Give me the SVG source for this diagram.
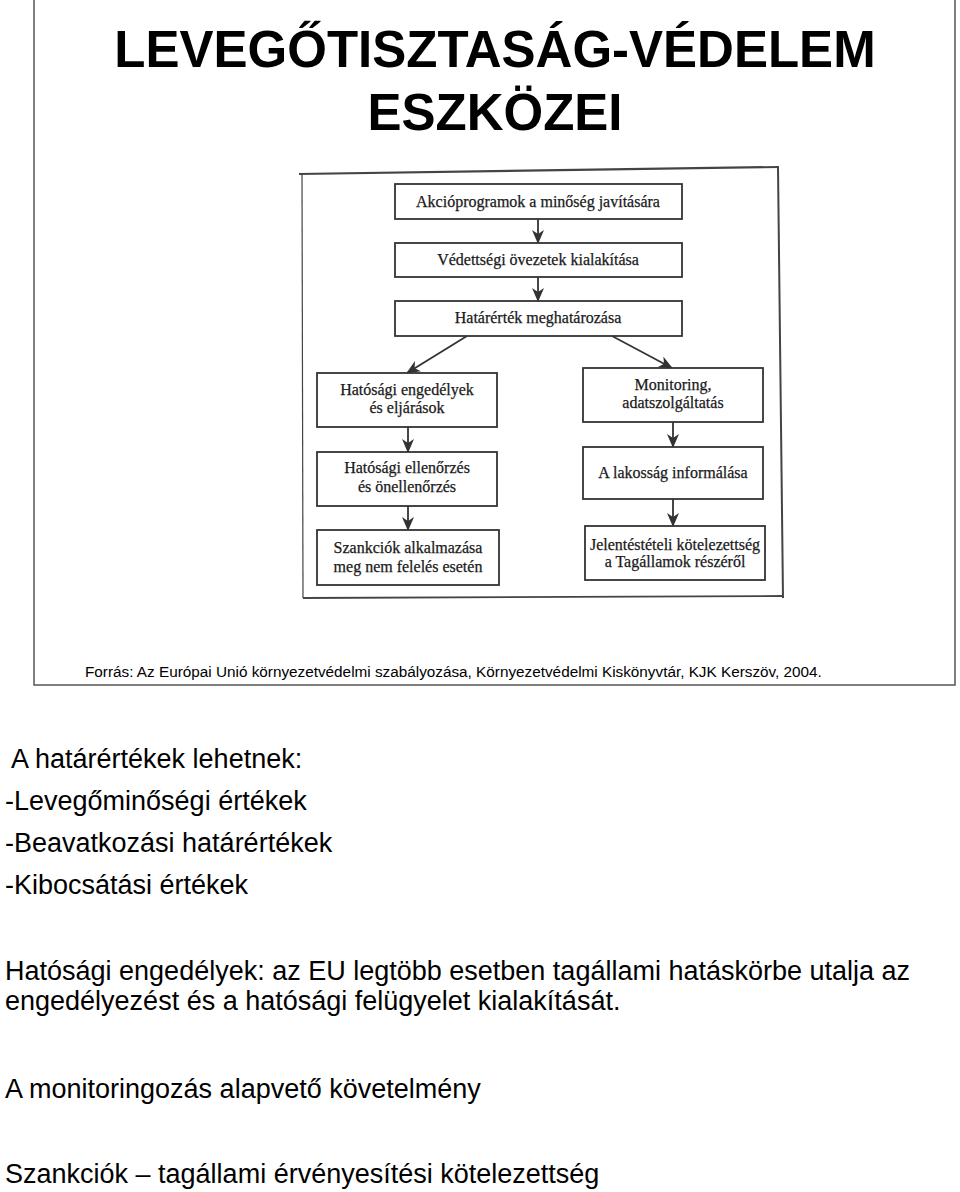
<svg xmlns="http://www.w3.org/2000/svg" width="960" height="1192" viewBox="0 0 960 1192">
<style>
.title{font-family:"Liberation Sans",Arial,sans-serif;font-weight:bold;font-size:51px;fill:#000;text-anchor:middle}
.body{font-family:"Liberation Sans",Arial,sans-serif;font-size:27px;fill:#000}
.cap{font-family:"Liberation Sans",Arial,sans-serif;font-size:15.3px;fill:#000}
.box{fill:#fff;stroke:#333;stroke-width:1.8}
.bt{font-family:"Liberation Serif","Times New Roman",serif;font-size:16px;fill:#1a1a1a;stroke:#1a1a1a;stroke-width:0.25;text-anchor:middle}
.con{stroke:#333;stroke-width:1.8;fill:none;marker-end:url(#ah)}
.frame{stroke:#444;fill:none}
</style>
<defs>
<marker id="ah" viewBox="0 0 14 12" refX="13" refY="6" markerWidth="14" markerHeight="12" markerUnits="userSpaceOnUse" orient="auto">
<path d="M0,0 L14,6 L0,12 L4,6 Z" fill="#333"/>
</marker>
</defs>
<rect width="960" height="1192" fill="#fff"/>
<g id="slide-frame">
<path d="M34,-2 L34,685 L955,685 L955,-2" fill="none" stroke="#555" stroke-width="1.5"/>
</g>
<g id="title">
<text class="title" x="495" y="67">LEVEGŐTISZTASÁG-VÉDELEM</text>
<text class="title" x="495" y="130">ESZKÖZEI</text>
</g>
<g id="scan-frame">
<line class="frame" x1="299" y1="174" x2="779" y2="167" stroke-width="2.2"/>
<line class="frame" x1="778" y1="167" x2="783" y2="598" stroke-width="2"/>
<line class="frame" x1="302" y1="174" x2="303" y2="598" stroke-width="1.2" stroke="#777"/>
<line class="frame" x1="303" y1="598" x2="783" y2="596" stroke-width="1.8"/>
</g>
<g id="connectors">
<line class="con" x1="538" y1="219" x2="538" y2="243"/>
<line class="con" x1="538" y1="277" x2="538" y2="301"/>
<line class="con" x1="467" y1="336" x2="407" y2="373"/>
<line class="con" x1="612" y1="336" x2="672" y2="368"/>
<line class="con" x1="408" y1="427" x2="408" y2="452"/>
<line class="con" x1="408" y1="506" x2="408" y2="530"/>
<line class="con" x1="673" y1="422" x2="673" y2="447"/>
<line class="con" x1="673" y1="499" x2="673" y2="526"/>
</g>
<g id="n1">
<rect class="box" x="395" y="184" width="287" height="35"/>
<text class="bt" x="538" y="207">Akcióprogramok a minőség javítására</text>
</g>
<g id="n2">
<rect class="box" x="395" y="243" width="287" height="34"/>
<text class="bt" x="538" y="265">Védettségi övezetek kialakítása</text>
</g>
<g id="n3">
<rect class="box" x="395" y="301" width="287" height="35"/>
<text class="bt" x="538" y="323">Határérték meghatározása</text>
</g>
<g id="n4">
<rect class="box" x="317" y="373" width="180" height="54"/>
<text class="bt" x="407" y="395">Hatósági engedélyek</text>
<text class="bt" x="407" y="413">és eljárások</text>
</g>
<g id="n5">
<rect class="box" x="317" y="452" width="180" height="54"/>
<text class="bt" x="407" y="473">Hatósági ellenőrzés</text>
<text class="bt" x="407" y="492">és önellenőrzés</text>
</g>
<g id="n6">
<rect class="box" x="317" y="530" width="182" height="55"/>
<text class="bt" x="408" y="553">Szankciók alkalmazása</text>
<text class="bt" x="408" y="572">meg nem felelés esetén</text>
</g>
<g id="n7">
<rect class="box" x="583" y="368" width="180" height="54"/>
<text class="bt" x="673" y="390">Monitoring,</text>
<text class="bt" x="673" y="408">adatszolgáltatás</text>
</g>
<g id="n8">
<rect class="box" x="583" y="447" width="180" height="52"/>
<text class="bt" x="673" y="478">A lakosság informálása</text>
</g>
<g id="n9">
<rect class="box" x="585" y="526" width="180" height="54"/>
<text class="bt" x="675" y="550">Jelentéstételi kötelezettség</text>
<text class="bt" x="675" y="567">a Tagállamok részéről</text>
</g>
<g id="caption">
<text class="cap" x="85" y="677">Forrás: Az Európai Unió környezetvédelmi szabályozása, Környezetvédelmi Kiskönyvtár, KJK Kerszöv, 2004.</text>
</g>
<g id="body">
<text class="body" x="11" y="768">A határértékek lehetnek:</text>
<text class="body" x="5" y="810">-Levegőminőségi értékek</text>
<text class="body" x="5" y="852">-Beavatkozási határértékek</text>
<text class="body" x="5" y="894">-Kibocsátási értékek</text>
<text class="body" x="5" y="980">Hatósági engedélyek: az EU legtöbb esetben tagállami hatáskörbe utalja az</text>
<text class="body" x="5" y="1010">engedélyezést és a hatósági felügyelet kialakítását.</text>
<text class="body" x="5" y="1098">A monitoringozás alapvető követelmény</text>
<text class="body" x="5" y="1183">Szankciók – tagállami érvényesítési kötelezettség</text>
</g>
</svg>
